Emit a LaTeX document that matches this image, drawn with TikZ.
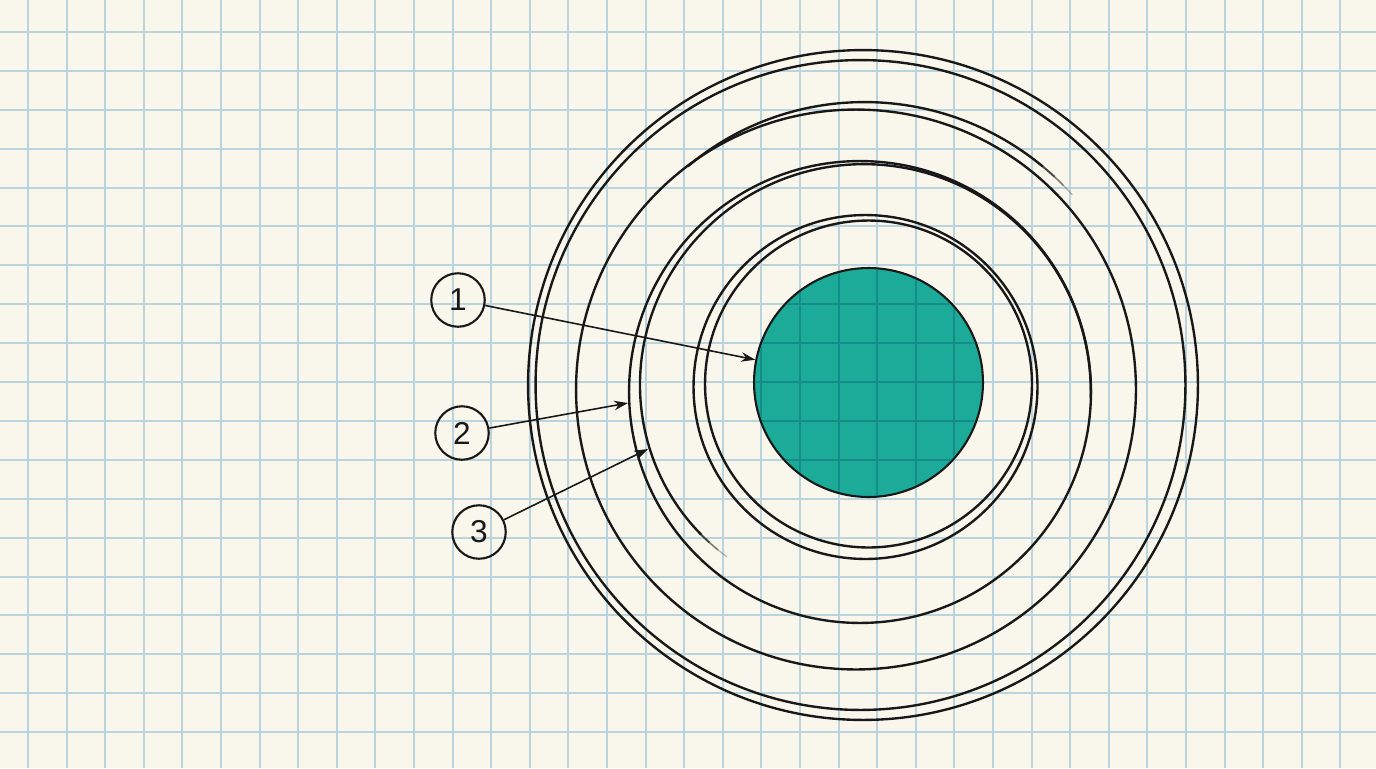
\documentclass[tikz,border=0pt]{standalone}
\usepackage{fontspec}
\setmainfont{Liberation Sans}
\usetikzlibrary{arrows.meta}
\definecolor{paper}{RGB}{249,246,236}
\definecolor{gridblue}{RGB}{186,212,222}
\definecolor{tealfill}{RGB}{28,171,152}
\definecolor{tealgrid}{RGB}{22,140,138}
\definecolor{ink}{RGB}{24,24,24}
\newcommand\radB[1]{(229-0.033*(#1+5)-0.001*(max(#1-150,0))^2)}
\newcommand\radC[1]{(291-11*((#1-42)/83)^2)}
\begin{document}
\begin{tikzpicture}[x=0.02cm,y=-0.02cm,
  gridline/.style={gridblue, line width=0.04cm},
  ring/.style={ink, line width=1.35pt},
  lbl/.style={circle, draw=ink, line width=1.2pt, minimum size=1.07cm, inner sep=0pt,
              font=\fontsize{18}{20}\selectfont, text=ink},
  pointer/.style={ink, line width=0.9pt, -{Stealth[length=0.28cm,width=0.19cm]}}]
\fill[paper] (0,0) rectangle (1376,768);
\useasboundingbox (0,0) rectangle (1376,768);
% grid paper
\foreach \k [evaluate=\k as \gx using {round(28+38.6*\k)}] in {0,...,34}
  \draw[gridline] (\gx,0) -- (\gx,768);
\foreach \k [evaluate=\k as \gy using {round(32+38.9*\k)}] in {0,...,18}
  \draw[gridline] (0,\gy) -- (1376,\gy);
% core
\node[circle, fill=tealfill, draw=ink, line width=1.2pt, minimum size=4.58cm, inner sep=0pt] (core) at (868.5,382.5) {};
\begin{scope}
  \clip (868.5,382.5) circle[radius=2.26cm];
  \foreach \k [evaluate=\k as \gx using {round(28+38.6*\k)}] in {18,...,26}
    \draw[tealgrid, line width=0.04cm] (\gx,0) -- (\gx,768);
  \foreach \k [evaluate=\k as \gy using {round(32+38.9*\k)}] in {5,...,13}
    \draw[tealgrid, line width=0.04cm] (0,\gy) -- (1376,\gy);
\end{scope}
% ring A
\draw[ring] (865.5,387) circle[radius=3.44cm];
\draw[ring] (868.5,384) circle[radius=3.27cm];
% ring B
\draw[ring] (860,392) circle[radius=4.62cm];
\draw[ring] plot[domain=-2:222, samples=120, variable=\t] ({862+\radB{\t}*cos(\t)},{390-\radB{\t}*sin(\t)});
\foreach \a/\b/\o/\w in {222/225/0.8/1.1, 225/228/0.55/0.9, 228/231/0.3/0.7}
  \draw[ink, line width=\w pt, opacity=\o] plot[domain=\a:\b, samples=5, variable=\t] ({862+\radB{\t}*cos(\t)},{390-\radB{\t}*sin(\t)});
% ring C
\draw[ring] (856,389.5) circle[radius=5.6cm];
\draw[ring] plot[domain=50:127, samples=60, variable=\t] ({856+\radC{\t}*cos(\t)},{389.5-\radC{\t}*sin(\t)});
\foreach \a/\b/\o/\w in {47/50/0.8/1.1, 44.5/47/0.55/0.9, 42/44.5/0.3/0.7}
  \draw[ink, line width=\w pt, opacity=\o] plot[domain=\a:\b, samples=5, variable=\t] ({856+\radC{\t}*cos(\t)},{389.5-\radC{\t}*sin(\t)});
% ring D
\draw[ring] (863,385) circle[radius=6.7cm];
\draw[ring] (860.5,385) circle[radius=6.5cm];
% labels and pointers
\node[lbl] (l1) at (458,300) {1};
\node[lbl] (l2) at (462,433) {2};
\node[lbl] (l3) at (479,532) {3};
\coordinate (t2) at (628,403);
\coordinate (t3) at (648,449);
\draw[pointer] (l1) -- (core);
\draw[pointer] (l2) -- (t2);
\draw[pointer] (l3) -- (t3);
\end{tikzpicture}
\end{document}
